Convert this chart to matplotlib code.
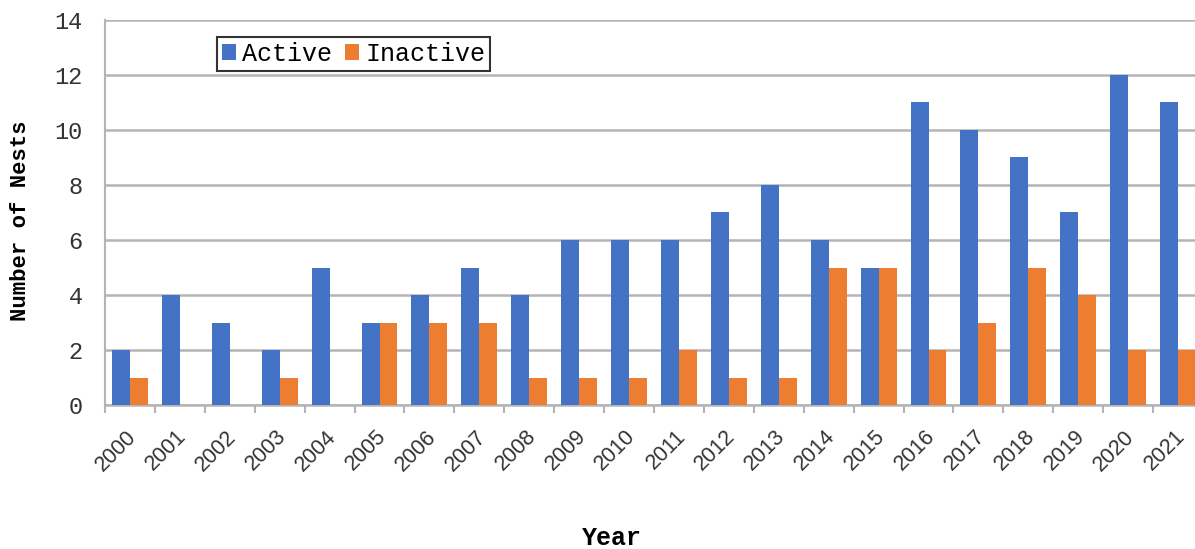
import matplotlib
matplotlib.use("Agg")
import matplotlib.pyplot as plt
import matplotlib.transforms as mtransforms
import numpy as np

years = [str(y) for y in range(2000, 2022)]
active = [2, 4, 3, 2, 5, 3, 4, 5, 4, 6, 6, 6, 7, 8, 6, 5, 11, 10, 9, 7, 12, 11]
inactive = [1, 0, 0, 1, 0, 3, 3, 3, 1, 1, 1, 2, 1, 1, 5, 5, 2, 3, 5, 4, 2, 2]
y_ticks = [0, 2, 4, 6, 8, 10, 12, 14]

BLUE = "#4472C4"
ORANGE = "#ED7D31"
GRID = "#B4B4B4"
MONO = "Liberation Mono"

fig = plt.figure(figsize=(11.95, 5.49), dpi=100)
# plot area runs slightly past the right edge of the canvas
ax = fig.add_axes([105 / 1195, 144 / 549, 1098 / 1195, 385 / 549])

x = np.arange(len(years))
w = 0.36
ax.bar(x - w / 2, active, w, color=BLUE, label="Active", zorder=3)
ax.bar(x + w / 2, inactive, w, color=ORANGE, label="Inactive", zorder=3)

ax.set_xlim(-0.5, len(years) - 0.5)
ax.set_ylim(0, 14)
ax.set_yticks(y_ticks)
ax.set_yticklabels([str(v) for v in y_ticks], fontfamily=MONO, fontsize=17, color="#333333")
ax.tick_params(axis="y", length=0, pad=16)

# category boundaries carry the tick marks, labels sit at category centers
ax.set_xticks(np.arange(len(years) + 1) - 0.5)
ax.set_xticklabels([])
ax.tick_params(axis="x", which="major", length=6, width=1.5, color=GRID)
ax.set_xticks(x, minor=True)
ax.set_xticklabels(years, minor=True, rotation=45, ha="right", va="top",
                   rotation_mode="anchor", fontfamily="Liberation Sans",
                   fontsize=15.5, color="#333333")
ax.tick_params(axis="x", which="minor", length=0, pad=8)
shift = mtransforms.ScaledTranslation(-4 / 100, -10 / 100, fig.dpi_scale_trans)
for lab in ax.get_xticklabels(minor=True):
    lab.set_transform(lab.get_transform() + shift)

ax.grid(axis="y", color=GRID, linewidth=1.8, zorder=0)
for s in ["top", "right"]:
    ax.spines[s].set_visible(False)
ax.spines["left"].set_color(GRID)
ax.spines["left"].set_linewidth(1.5)
ax.spines["bottom"].set_color(GRID)
ax.spines["bottom"].set_linewidth(1.8)

ax.set_ylabel("Number of Nests", fontfamily=MONO, fontweight="bold", fontsize=16)
ax.yaxis.set_label_coords(-0.067, 0.478)
fig.text(612 / 1195, 1 - 538 / 549, "Year", fontfamily=MONO, fontweight="bold",
         fontsize=18, ha="center", va="center")

leg = ax.legend(loc="upper left", bbox_to_anchor=(0.102, 0.956), ncol=2,
                prop={"family": MONO, "size": 18}, frameon=True, fancybox=False,
                handlelength=0.56, handleheight=0.56, handletextpad=0.26,
                columnspacing=0.5, borderpad=0.2, borderaxespad=0)
leg.get_frame().set_edgecolor("black")
leg.get_frame().set_linewidth(1.5)

fig.savefig("out.png", dpi=100)
